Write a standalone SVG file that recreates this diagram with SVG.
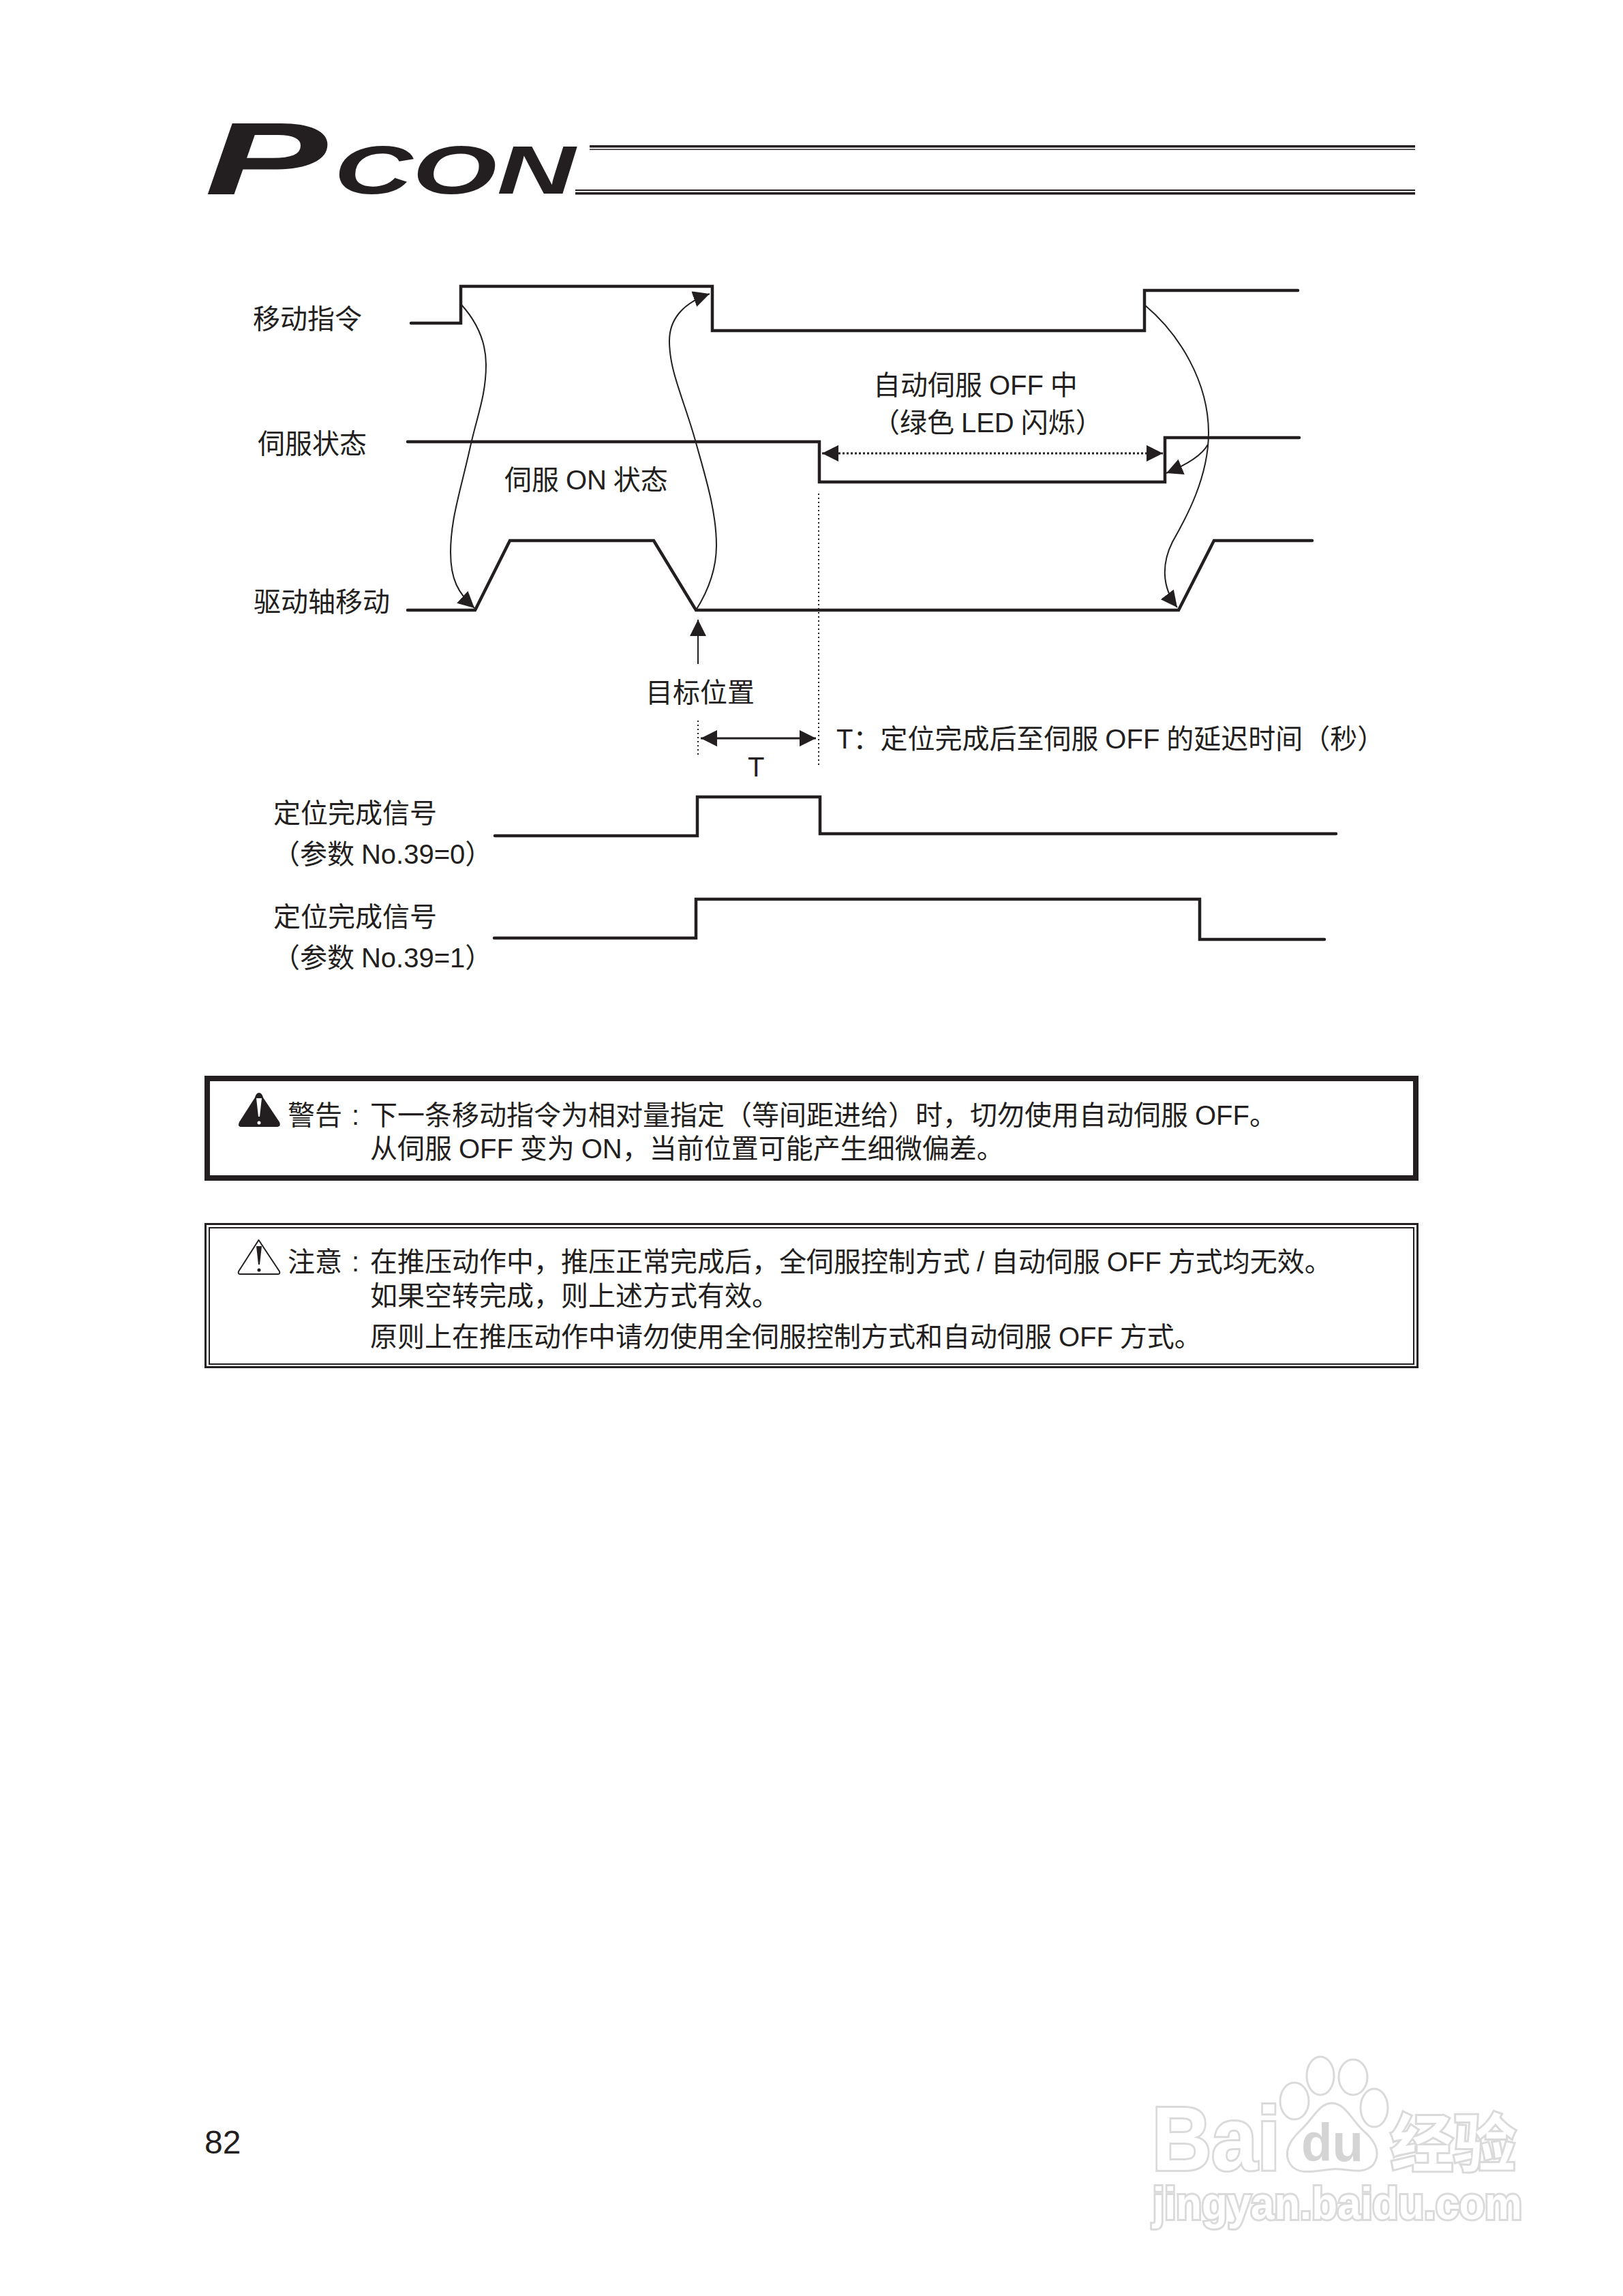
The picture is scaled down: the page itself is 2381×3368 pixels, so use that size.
<svg xmlns="http://www.w3.org/2000/svg" width="2381" height="3368" viewBox="0 0 2381 3368">
<style>
text{font-family:"Liberation Sans","Noto Sans CJK SC",sans-serif;font-size:40px;fill:#231f20;word-spacing:-1.2px}
.sig{fill:none;stroke:#231f20;stroke-width:4.5;stroke-linejoin:miter;stroke-linecap:round}
.cur{fill:none;stroke:#231f20;stroke-width:2}
.dot{fill:none;stroke:#231f20;stroke-width:2;stroke-dasharray:2 4}
.rule{fill:#231f20}
.logo{font-family:"Liberation Sans",sans-serif;font-weight:700;font-style:italic}
.wm{font-family:"Liberation Sans","Noto Sans CJK SC",sans-serif;font-weight:700;fill:#fff;stroke:#dadada;stroke-width:6;paint-order:stroke}
.paw{fill:#fff;stroke:#dadada;stroke-width:3}
</style>
<defs>
<marker id="ah" markerUnits="userSpaceOnUse" markerWidth="26" markerHeight="26" refX="24" refY="12" orient="auto-start-reverse" viewBox="0 0 26 24"><path d="M0,0L24,12L0,24Z" fill="#231f20"/></marker>
</defs>
<rect width="2381" height="3368" fill="#fff"/>
<g id="header">
<text class="logo" x="300" y="285" textLength="180" lengthAdjust="spacingAndGlyphs" style="font-size:151px">P</text>
<text class="logo" x="490" y="284" style="font-size:100px" textLength="354" lengthAdjust="spacingAndGlyphs">CON</text>
<rect class="rule" x="865" y="213" width="1211" height="3.5"/>
<rect class="rule" x="865" y="218.5" width="1211" height="1.5"/>
<rect class="rule" x="844" y="278" width="1232" height="2"/>
<rect class="rule" x="844" y="282" width="1232" height="3.5"/>
</g>
<g id="sig-move">
<text x="371" y="482">移动指令</text>
<path class="sig" d="M603,474H676V420H1045V485H1679V426H1904"/>
</g>
<g id="sig-servo">
<text x="378" y="665">伺服状态</text>
<text x="740" y="718">伺服 ON 状态</text>
<text x="1281" y="579">自动伺服 OFF 中</text>
<text x="1280" y="634">（绿色 LED 闪烁）</text>
<path class="sig" d="M598,648H1202V707H1709V642H1906"/>
</g>
<g id="sig-axis">
<text x="372" y="897">驱动轴移动</text>
<path class="sig" d="M598,895H697L748,793H959L1021,895H1729L1781,793H1925"/>
</g>
<g id="target">
<text x="947" y="1030">目标位置</text>
<text x="1097" y="1139">T</text>
<text x="1227" y="1098">T：定位完成后至伺服 OFF 的延迟时间（秒）</text>
</g>
<g id="sig-inp0">
<text x="401" y="1207">定位完成信号</text>
<text x="400" y="1267">（参数 No.39=0）</text>
<path class="sig" d="M726,1226H1023V1169H1203V1223H1960"/>
</g>
<g id="sig-inp1">
<text x="401" y="1359">定位完成信号</text>
<text x="400" y="1419">（参数 No.39=1）</text>
<path class="sig" d="M725,1376H1021V1319H1760V1378H1943"/>
</g>
<g id="connectors">
<path class="cur" marker-end="url(#ah)" d="M676,446C698,470 713,500 713,535C713,580 700,610 690,655C677,715 661,760 661,810C661,850 672,870 696,892"/>
<path class="cur" marker-end="url(#ah)" d="M1021,895C1040,865 1051,835 1051,800C1051,750 1035,700 1020,646C1003,585 982,545 982,500C982,470 1000,445 1041,431"/>
<path class="cur" marker-end="url(#ah)" d="M1680,448C1730,490 1773,560 1773,635C1773,700 1740,760 1720,795C1705,825 1703,860 1727,891"/>
<path class="cur" marker-end="url(#ah)" d="M1772,652C1765,665 1745,680 1711,694"/>
<path fill="none" stroke="#231f20" stroke-width="3" stroke-dasharray="3 3" marker-start="url(#ah)" marker-end="url(#ah)" d="M1206,665H1706"/>
<path fill="none" stroke="#231f20" stroke-width="3" marker-start="url(#ah)" marker-end="url(#ah)" d="M1028,1083H1197"/>
<path class="cur" marker-end="url(#ah)" d="M1024,974V909"/>
<path class="dot" d="M1201,724V1124"/>
<path class="dot" d="M1024,1057V1111"/>
</g>
<g id="warning">
<rect x="304" y="1582" width="1773" height="146" fill="none" stroke="#231f20" stroke-width="8"/>
<path d="M380,1603C383,1603 385,1606 386,1610L410,1646C412,1651 410,1653 406,1653H354C350,1653 349,1651 351,1646L374,1610C375,1606 377,1603 380,1603Z" fill="#231f20"/>
<path d="M376,1611H384L381,1638H379Z" fill="#fff"/>
<circle cx="380" cy="1647" r="2.5" fill="#fff"/>
<text x="422" y="1650">警告</text>
<text x="516" y="1650">:</text>
<text x="543" y="1650">下一条移动指令为相对量指定（等间距进给）时，切勿使用自动伺服 OFF。</text>
<text x="543" y="1699">从伺服 OFF 变为 ON，当前位置可能产生细微偏差。</text>
</g>
<g id="caution">
<rect x="301.5" y="1795.5" width="1778" height="210" fill="none" stroke="#231f20" stroke-width="3"/>
<rect x="307" y="1801" width="1767" height="200" fill="none" stroke="#231f20" stroke-width="2"/>
<path d="M379.500,1819L410,1865C411,1868 410,1869 407,1869H353C350,1869 349,1868 350,1865Z" fill="none" stroke="#231f20" stroke-width="2" stroke-linejoin="round"/>
<path d="M376,1828H384L381,1855H379Z" fill="#231f20"/>
<circle cx="380" cy="1863" r="2.500" fill="#231f20"/>
<text x="422" y="1865">注意</text>
<text x="516" y="1865">:</text>
<text x="543" y="1865">在推压动作中，推压正常完成后，全伺服控制方式 / 自动伺服 OFF 方式均无效。</text>
<text x="543" y="1915">如果空转完成，则上述方式有效。</text>
<text x="543" y="1975">原则上在推压动作中请勿使用全伺服控制方式和自动伺服 OFF 方式。</text>
</g>
<g id="page-number"><text x="300" y="3159" style="font-size:48px">82</text></g>
<g id="watermark">
<text class="wm" x="1690" y="3183" style="font-size:132px" textLength="188" lengthAdjust="spacingAndGlyphs">Bai</text>
<ellipse class="paw" cx="1937" cy="3045" rx="20" ry="28"/>
<ellipse class="paw" cx="1985" cy="3047" rx="21" ry="26"/>
<ellipse class="paw" cx="1899" cy="3082" rx="21" ry="27"/>
<ellipse class="paw" cx="2016" cy="3092" rx="20" ry="28"/>
<path class="paw" d="M1954,3085C1975,3085 1985,3115 2005,3130C2020,3145 2025,3160 2015,3175C2000,3192 1975,3180 1955,3182C1930,3184 1905,3192 1893,3175C1882,3158 1892,3140 1908,3125C1925,3110 1935,3085 1954,3085Z"/>
<text x="1909" y="3170" textLength="91" lengthAdjust="spacingAndGlyphs" style="font-size:78px;font-weight:700;fill:#d4d4d4">du</text>
<text class="wm" x="2040" y="3178" style="font-size:92px">经验</text>
<text class="wm" x="1691" y="3255" style="font-size:66px" textLength="542" lengthAdjust="spacingAndGlyphs">jingyan.baidu.com</text>
</g>
</svg>
